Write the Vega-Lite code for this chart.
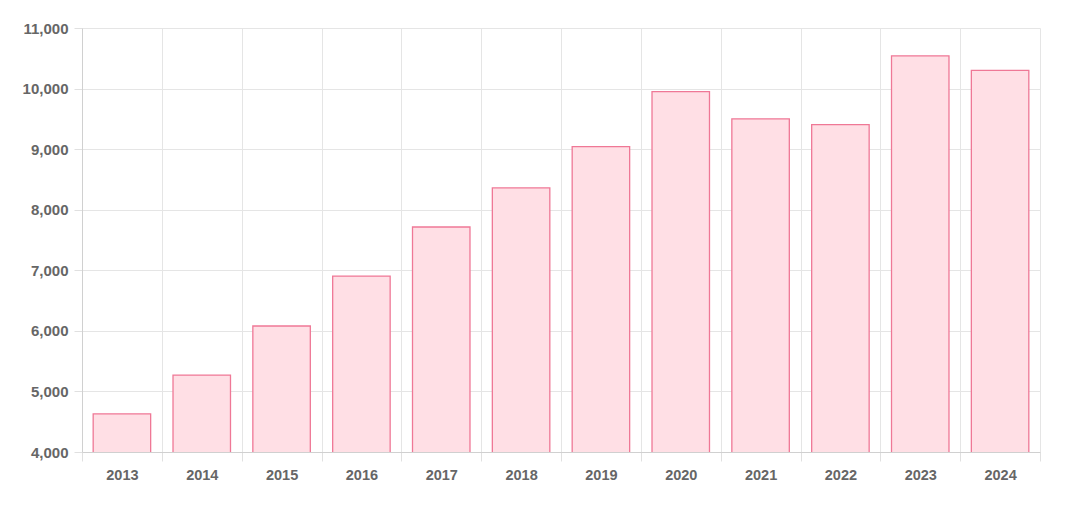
{
  "$schema": "https://vega.github.io/schema/vega-lite/v6.json",
  "autosize": "none",
  "padding": {"left": 82, "top": 28, "right": 40, "bottom": 58},
  "width": 958,
  "height": 424,
  "background": "white",
  "data": {"values": [
    {"year": "2013", "value": 4630},
    {"year": "2014", "value": 5270},
    {"year": "2015", "value": 6080},
    {"year": "2016", "value": 6905},
    {"year": "2017", "value": 7715},
    {"year": "2018", "value": 8360},
    {"year": "2019", "value": 9040},
    {"year": "2020", "value": 9950},
    {"year": "2021", "value": 9500},
    {"year": "2022", "value": 9405},
    {"year": "2023", "value": 10540},
    {"year": "2024", "value": 10300}
  ]},
  "mark": {"type": "bar", "width": {"band": 0.72}, "fill": "#ffdfe5", "stroke": "#ef7896", "strokeWidth": 1.3, "clip": true},
  "encoding": {
    "x": {
      "field": "year", "type": "ordinal",
      "scale": {"paddingInner": 0, "paddingOuter": 0},
      "axis": {
        "title": null, "labelAngle": 0, "tickBand": "extent",
        "grid": true, "gridColor": "#e5e5e5", "gridWidth": 1,
        "domainColor": "#d0d0d0", "tickColor": "#e0e0e0", "tickSize": 9,
        "labelFont": "Liberation Sans", "labelFontSize": 14.5, "labelFontWeight": "bold",
        "labelColor": "#666666", "labelPadding": 7
      }
    },
    "y": {
      "field": "value", "type": "quantitative",
      "scale": {"domain": [4000, 11000], "nice": false, "zero": false},
      "axis": {
        "title": null, "values": [4000,5000,6000,7000,8000,9000,10000,11000],
        "format": ",d", "labelOverlap": false, "labelBound": false, "labelFlush": false,
        "grid": true, "gridColor": "#e5e5e5", "gridWidth": 1,
        "domainColor": "#d0d0d0", "tickColor": "#e0e0e0", "tickSize": 8,
        "labelFont": "Liberation Sans", "labelFontSize": 15, "labelFontWeight": "bold",
        "labelColor": "#666666", "labelPadding": 6
      }
    }
  },
  "config": {"view": {"stroke": null}}
}
